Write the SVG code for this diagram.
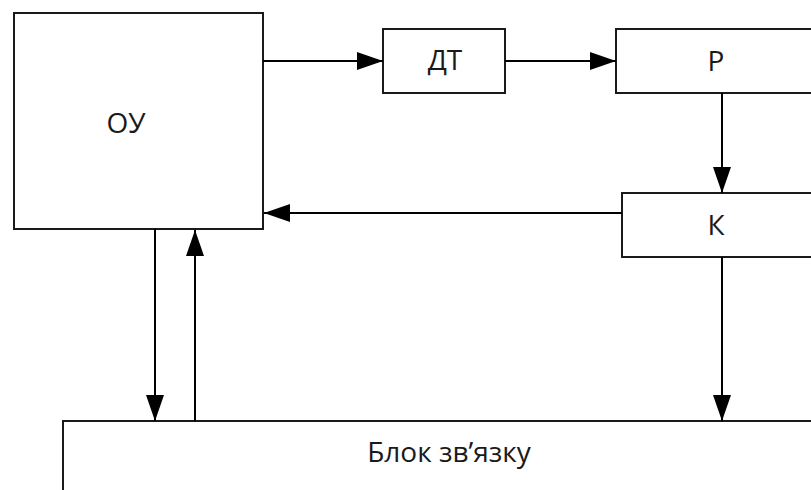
<svg xmlns="http://www.w3.org/2000/svg" width="811" height="490" viewBox="0 0 811 490">
<style>
.box{fill:#fff;stroke:#1a1a1a;stroke-width:2}
.lbl{font-family:"Open Sans","Noto Sans","Liberation Sans",sans-serif;font-size:28px;fill:#1a1a1a;text-anchor:middle}
.con{fill:none;stroke:#000;stroke-width:2;marker-end:url(#ah)}
</style>
<defs>
<marker id="ah" markerUnits="userSpaceOnUse" markerWidth="26" markerHeight="18" refX="26" refY="9" orient="auto">
<path d="M0,0 L26,9 L0,18 z" fill="#000"/>
</marker>
</defs>
<rect width="811" height="490" fill="#fff"/>
<g id="node-ou"><rect class="box" x="14" y="13" width="249" height="216"/><text class="lbl" x="126" y="133">ОУ</text></g>
<g id="node-dt"><rect class="box" x="383" y="29" width="122" height="64"/><text class="lbl" x="445" y="70">ДТ</text></g>
<g id="node-r"><rect class="box" x="616" y="29" width="220" height="64"/><text class="lbl" x="716" y="71">Р</text></g>
<g id="node-k"><rect class="box" x="622" y="193" width="214" height="64"/><text class="lbl" x="716" y="235">К</text></g>
<g id="node-blok"><rect class="box" x="63" y="421" width="773" height="90"/><text class="lbl" x="449" y="462">Блок зв’язку</text></g>
<g id="connectors">
<path class="con" d="M263,61 H383"/>
<path class="con" d="M505,61 H616"/>
<path class="con" d="M722,93 V193"/>
<path class="con" d="M622,213 H264"/>
<path class="con" d="M722,257 V421"/>
<path class="con" d="M155,229 V421"/>
<path class="con" d="M195,421 V230"/>
</g>
</svg>
